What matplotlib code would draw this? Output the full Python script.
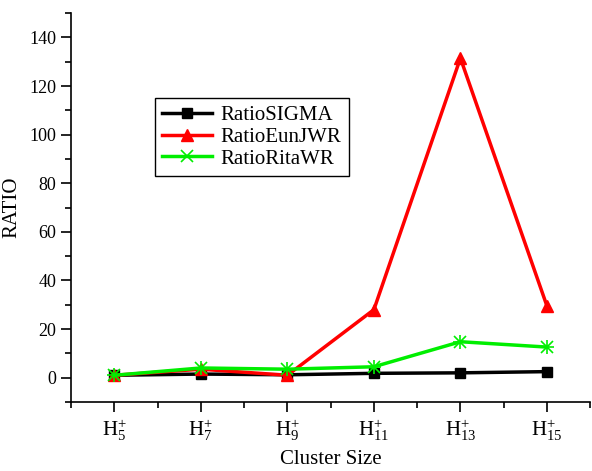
import matplotlib
matplotlib.use('Agg')
import matplotlib.pyplot as plt
from matplotlib.ticker import MultipleLocator
import numpy as np

plt.rcParams['font.family'] = 'Liberation Serif'
plt.rcParams['mathtext.fontset'] = 'stix'

sizes = [5, 7, 9, 11, 13, 15]
ratio_sigma = [1.0, 1.5, 1.2, 1.8, 2.0, 2.5]
ratio_eunjwr = [1.0, 3.5, 1.0, 28.0, 131.5, 29.5]
ratio_ritawr = [1.0, 4.0, 3.5, 4.5, 14.8, 12.6]
labels = [r'$\mathregular{H_{%d}^{+}}$' % n for n in sizes]

x = np.arange(1, len(sizes) + 1)

fig = plt.figure(figsize=(5.92, 4.71), dpi=100)
ax = fig.add_axes([0.12, 0.1465, 0.877, 0.8255])

ax.plot(x, ratio_sigma, 'k-', marker='s', ms=7, lw=2.5, label='RatioSIGMA')
ax.plot(x, ratio_eunjwr, '-', color='#ff0000', marker='^', ms=8, lw=2.5, label='RatioEunJWR')
ax.plot(x, ratio_ritawr, '-', color='#00ee00', marker='x', ms=8, mew=1.2, lw=2.5, label='RatioRitaWR')
ax.plot(x, ratio_ritawr, ' ', color='#00ee00', marker='+', ms=10, mew=1.2)

ax.set_xlim(0.5, 6.5)
ax.set_ylim(-10, 150)
ax.set_xticks(x)
ax.set_xticklabels(labels, fontsize=15)
ax.xaxis.set_minor_locator(MultipleLocator(0.5))
ax.yaxis.set_major_locator(MultipleLocator(20))
ax.yaxis.set_minor_locator(MultipleLocator(10))
ax.set_yticks(np.arange(0, 141, 20))
ax.tick_params(axis='y', labelsize=13)
ax.tick_params(which='major', direction='out', length=7, width=1.2)
ax.tick_params(which='minor', direction='out', length=4, width=1.2)
ax.tick_params(axis='x', pad=4)

for s in ['top', 'right']:
    ax.spines[s].set_visible(False)
for s in ['left', 'bottom']:
    ax.spines[s].set_linewidth(1.2)

ax.set_xlabel('Cluster Size', fontsize=15, labelpad=5)
ax.set_ylabel('RATIO', fontsize=15)
ax.yaxis.set_label_coords(-0.096, 0.5)

leg = ax.legend(loc='upper left', bbox_to_anchor=(0.162, 0.781), borderaxespad=0,
                fontsize=15, fancybox=False, edgecolor='k', framealpha=1,
                handlelength=2.4, handletextpad=0.4, borderpad=0.35, labelspacing=0.1)
leg.get_frame().set_linewidth(1.0)

fig.savefig('out.png', dpi=100)
